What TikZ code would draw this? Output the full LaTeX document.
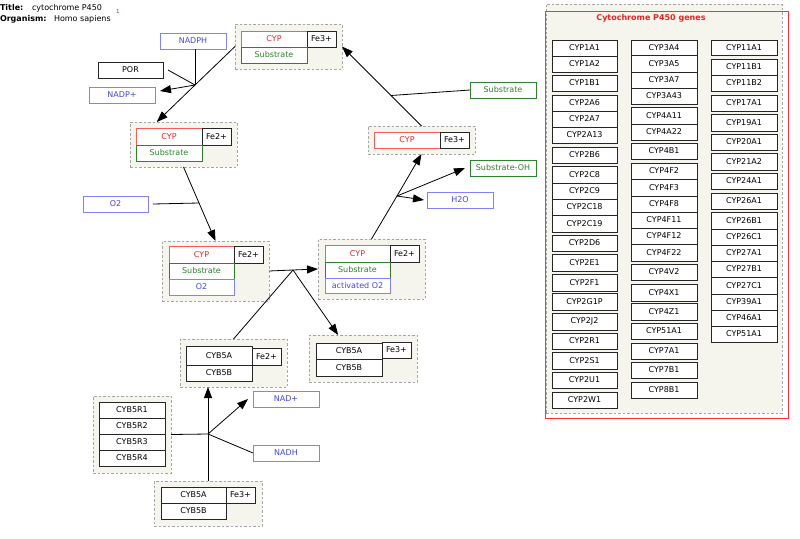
\documentclass[tikz,border=0pt]{standalone}
\usepackage{fontspec}
\setmainfont{DejaVu Sans}
\usetikzlibrary{arrows.meta,calc}
\definecolor{cypred}{RGB}{235,35,35}
\definecolor{cypredl}{RGB}{250,90,90}
\definecolor{subgreen}{RGB}{45,130,45}
\definecolor{bluet}{RGB}{70,70,235}
\definecolor{blueb}{RGB}{130,130,255}
\definecolor{grpgray}{RGB}{165,165,165}
\definecolor{grpfill}{RGB}{245,245,238}
\newcommand{\B}[7]{\node[#1, minimum width={(#5)-(#3)}, minimum height={(#6)-(#4)}] (#2) at ({((#3)+(#5))/2},{((#4)+(#6))/2}) {#7};}
\tikzset{
  fs/.style={font=\fontsize{8}{9}\selectfont},
  grp/.style={draw=grpgray, dash pattern=on 2.5pt off 2pt, fill=grpfill, line width=0.7pt, inner sep=0pt, outer sep=0pt},
  bx/.style={draw=black!85, fill=white, line width=0.6pt, inner sep=0pt, outer sep=0pt, fs, text=black},
  cyp/.style={bx, draw=cypredl, text=cypred},
  sub/.style={bx, draw=subgreen, text=subgreen},
  blu/.style={bx, draw=blueb, text=bluet},
  conn/.style={draw=black, line width=0.8pt},
  arr/.style={conn, -{Triangle[length=11pt,width=8pt]}},
  lbl/.style={fs, inner sep=0pt, outer sep=0pt}
}
\begin{document}
\begin{tikzpicture}[x=1pt,y=-1pt]
\useasboundingbox (0,0) rectangle (800,538);
% title
\node[lbl, anchor=west, font=\fontsize{8}{9}\selectfont\bfseries] (tt) at (0,8) {Title:};
\node[lbl, anchor=west] (ttv) at (32,8) {cytochrome P450};
\node[lbl, anchor=west, font=\fontsize{5.5}{6}\selectfont, text=bluet] (one) at (116,11) {1};
\node[lbl, anchor=west, font=\fontsize{8}{9}\selectfont\bfseries] (org) at (0,19) {Organism:};
\node[lbl, anchor=west] (orgv) at (54,19) {Homo sapiens};

% gene panel
\B{grp}{genes}{546}{4}{782}{413}{}
\B{draw=red!80, line width=0.8pt, inner sep=0pt, outer sep=0pt}{genesframe}{545}{11}{788}{418}{}
\node[lbl, font=\fontsize{8}{9}\selectfont\bfseries, text=cypred] (gtitle) at (651,18) {Cytochrome P450 genes};
\foreach \a/\b/\t [count=\i] in {40/56/CYP1A1, 56/72/CYP1A2, 75/91/CYP1B1, 95/111/CYP2A6, 111/127/CYP2A7, 127/143/CYP2A13, 147/163/CYP2B6, 166/183/CYP2C8, 183/199/CYP2C9, 199/215/CYP2C18, 215/232/CYP2C19, 235/251/CYP2D6, 254/271/CYP2E1, 274/291/CYP2F1, 293/310/CYP2G1P, 313/330/CYP2J2, 333/349/CYP2R1, 352/369/CYP2S1, 372/388/CYP2U1, 392/408/CYP2W1}
  {\B{bx}{ca\i}{552}{\a}{617}{\b}{\t}}
\foreach \a/\b/\t [count=\i] in {40/55/CYP3A4, 55/72/CYP3A5, 72/88/CYP3A7, 88/104/CYP3A43, 107/124/CYP4A11, 124/140/CYP4A22, 143/159/CYP4B1, 163/179/CYP4F2, 179/196/CYP4F3, 196/212/CYP4F8, 212/228/CYP4F11, 228/244/CYP4F12, 244/261/CYP4F22, 264/280/CYP4V2, 284/301/CYP4X1, 303/320/CYP4Z1, 323/339/CYP51A1, 343/359/CYP7A1, 362/378/CYP7B1, 382/398/CYP8B1}
  {\B{bx}{cb\i}{631}{\a}{697}{\b}{\t}}
\foreach \a/\b/\t [count=\i] in {40/55/CYP11A1, 59/75/CYP11B1, 75/91/CYP11B2, 95/111/CYP17A1, 114/131/CYP19A1, 134/150/CYP20A1, 153/170/CYP21A2, 173/189/CYP24A1, 193/209/CYP26A1, 212/229/CYP26B1, 229/245/CYP26C1, 245/261/CYP27A1, 261/277/CYP27B1, 277/294/CYP27C1, 294/310/CYP39A1, 310/326/CYP46A1, 326/342/CYP51A1}
  {\B{bx}{cc\i}{711}{\a}{777}{\b}{\t}}

% group 1
\B{grp}{g1}{235}{24}{342}{69}{}
\B{cyp}{g1c}{241}{31}{307}{47}{CYP}
\B{bx}{g1f}{307}{31}{336}{47}{Fe3+}
\B{sub}{g1s}{241}{47}{307}{63}{Substrate}
% group 2
\B{grp}{g2}{130}{122}{237}{167}{}
\B{cyp}{g2c}{136}{128}{202}{145}{CYP}
\B{bx}{g2f}{202}{128}{231}{145}{Fe2+}
\B{sub}{g2s}{136}{145}{202}{161}{Substrate}
% group 3
\B{grp}{g3}{162}{241}{269}{301}{}
\B{cyp}{g3c}{169}{246}{234}{263}{CYP}
\B{bx}{g3f}{234}{246}{263}{263}{Fe2+}
\B{sub}{g3s}{169}{263}{234}{279}{Substrate}
\B{blu}{g3o}{169}{279}{234}{295}{O2}
% group 4
\B{grp}{g4}{318}{239}{425}{299}{}
\B{cyp}{g4c}{325}{245}{390}{262}{CYP}
\B{bx}{g4f}{390}{245}{419}{262}{Fe2+}
\B{sub}{g4s}{325}{262}{390}{278}{Substrate}
\B{blu}{g4o}{325}{278}{390}{293}{activated O2}
% group 8
\B{grp}{g8}{368}{126}{475}{154}{}
\B{cyp}{g8c}{374}{132}{440}{148}{CYP}
\B{bx}{g8f}{440}{132}{469}{148}{Fe3+}
% group 5
\B{grp}{g5}{180}{339}{287}{387}{}
\B{bx}{g5a}{186}{346}{252}{365}{CYB5A}
\B{bx}{g5f}{252}{348}{281}{365}{Fe2+}
\B{bx}{g5b}{186}{365}{252}{381}{CYB5B}
% group 6
\B{grp}{g6}{309}{335}{417}{382}{}
\B{bx}{g6a}{316}{343}{382}{359}{CYB5A}
\B{bx}{g6f}{382}{342}{411}{358}{Fe3+}
\B{bx}{g6b}{316}{359}{382}{376}{CYB5B}
% group 7
\B{grp}{g7}{154}{481}{262}{526}{}
\B{bx}{g7a}{161}{487}{226}{503}{CYB5A}
\B{bx}{g7f}{226}{487}{255}{503}{Fe3+}
\B{bx}{g7b}{161}{503}{226}{519}{CYB5B}
% CYB5R group
\B{grp}{gR}{93}{396}{171}{473}{}
\B{bx}{r1}{99}{402}{165}{418}{CYB5R1}
\B{bx}{r2}{99}{418}{165}{434}{CYB5R2}
\B{bx}{r3}{99}{434}{165}{450}{CYB5R3}
\B{bx}{r4}{99}{450}{165}{466}{CYB5R4}

% small molecules
\B{blu}{nadph}{160}{33}{226}{49}{NADPH}
\B{bx}{por}{98}{62}{163}{78}{POR}
\B{blu}{nadpp}{89}{87}{155}{103}{NADP+}
\B{blu}{o2}{83}{196}{148}{212}{O2}
\B{sub}{subs}{470}{82}{536}{98}{Substrate}
\B{sub}{subOH}{470}{160}{536}{176}{Substrate-OH}
\B{blu}{h2o}{427}{192}{493}{208}{H2O}
\B{blu}{nad}{253}{391}{319}{407}{NAD+}
\B{blu}{nadh}{253}{445}{319}{461}{NADH}

% reactions
\coordinate (j1) at (195,85);
\draw[conn] (g1.west) -- (j1);
\draw[arr] (j1) -- ($(g2.north west)!0.25!(g2.north east)$);
\draw[conn] (j1 |- nadph.south) -- (j1);
\draw[conn] ([xshift=5pt]por.east) -- (j1);
\draw[arr] (j1) -- ([xshift=5pt,yshift=4pt]nadpp.east);

\coordinate (j2) at (199,203);
\draw[conn] (g2.south) -- (j2);
\draw[arr] (j2) -- (g3.north);
\draw[conn] ([xshift=5pt]o2.east) -- (j2);

\coordinate (j3) at (293,270);
\draw[conn] (g3.east) -- (j3);
\draw[arr] (j3) -- (g4.west);
\draw[conn] (g5.north) -- (j3);
\draw[arr] (j3) -- ($(g6.north west)!0.27!(g6.north east)$);

\coordinate (j4) at (397,196);
\draw[conn] (g4.north) -- (j4);
\draw[arr] (j4) -- (g8.south);
\draw[arr] (j4) -- ([xshift=-5pt]subOH.west);
\draw[arr] (j4) -- ([xshift=-3pt]h2o.west);

\coordinate (j5) at (391,95.5);
\draw[conn] (g8.north) -- (j5);
\draw[arr] (j5) -- (g1.east);
\draw[conn] (subs.west) -- (j5);

\coordinate (j6) at (208,434);
\draw[conn] (g7.north) -- (j6);
\draw[arr] (j6) -- (j6 |- g5.south);
\draw[conn] (gR.east) -- (j6);
\draw[conn] (j6) -- (nadh.west);
\draw[arr] (j6) -- ([xshift=-5pt]nad.west);
\end{tikzpicture}
\end{document}
